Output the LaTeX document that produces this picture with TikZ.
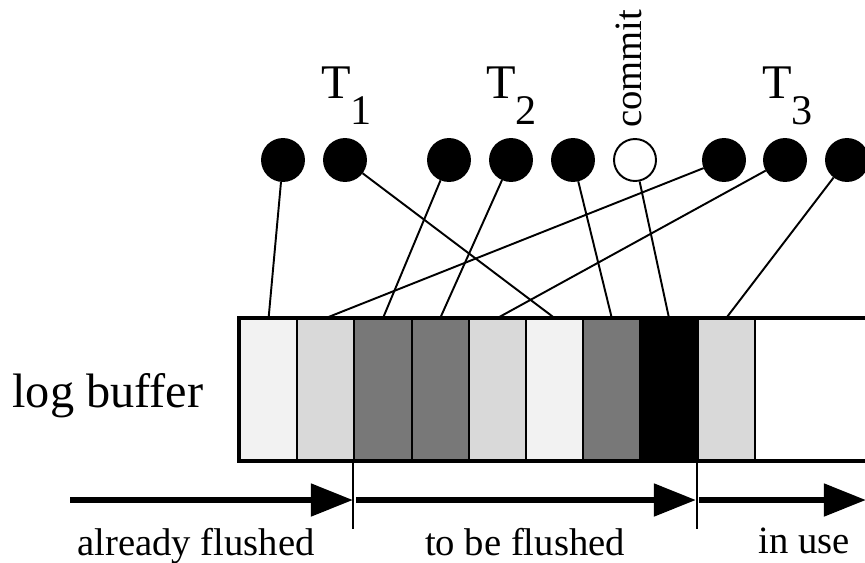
\documentclass[tikz,border=0pt]{standalone}
\usepackage{fontspec}
\setmainfont{Liberation Serif}
\usetikzlibrary{arrows.meta, positioning}

% transaction label with a lowered index
\newcommand{\tname}[1]{T\raisebox{-15pt}{\fontsize{24}{24}\selectfont #1}}

\begin{document}
\begin{tikzpicture}[x=0.02cm, y=-0.02cm,
    entry/.style={circle, draw, line width=1.1pt, fill=black, minimum size=0.84cm, inner sep=0pt},
    cell/.style={rectangle, draw, line width=1.1pt, minimum width=1.144cm, minimum height=2.84cm, inner sep=0pt},
    link/.style={line width=1.1pt},
    flow/.style={line width=3.6pt, -{Triangle[length=24pt, width=18pt]}},
    tick/.style={line width=1.1pt},
    big/.style={font=\fontsize{27.5}{30}\selectfont, inner sep=0pt},
    small/.style={font=\fontsize{22}{24}\selectfont, inner sep=0pt}]
    \useasboundingbox (0,0) rectangle (865,562);

    % Log records of the transactions
    \node[entry] (e1) at (283,160) {};
    \node[entry] (e2) at (345,160) {};
    \node[entry] (e3) at (449,160) {};
    \node[entry] (e4) at (511,160) {};
    \node[entry] (e5) at (573,160) {};
    \node[entry, fill=white] (commit) at (635,160) {};
    \node[entry] (e7) at (724,160) {};
    \node[entry] (e8) at (785,160) {};
    \node[entry] (e9) at (847,160) {};

    % Labels
    \node[big, anchor=base west] (t1) at (321,98) {\tname{1}};
    \node[big, anchor=base west] (t2) at (486,98) {\tname{2}};
    \node[big, anchor=base west] (t3) at (762,98) {\tname{3}};
    \node[small, rotate=90, anchor=base west] (clab) at (641,128) {commit};

    % The buffer slots
    \node[cell, fill=gray!10] (c1) at (268.6,390) {};
    \node[cell, fill=gray!30] (c2) at (325.8,390) {};
    \node[cell, fill=black!53] (c3) at (383.0,390) {};
    \node[cell, fill=black!53] (c4) at (440.2,390) {};
    \node[cell, fill=gray!30] (c5) at (497.4,390) {};
    \node[cell, fill=gray!10] (c6) at (554.6,390) {};
    \node[cell, fill=black!53] (c7) at (611.8,390) {};
    \node[cell, fill=black] (c8) at (669.0,390) {};
    \node[cell, fill=gray!30] (c9) at (726.2,390) {};
    \draw[line width=2pt] (c1.north west) rectangle (900,461);
    \node[big, anchor=base] (buf) at (108,407) {log buffer};

    % Records to slots
    \draw[link] (e1) -- (c1.north);
    \draw[link] (e2) -- (c6.north);
    \draw[link] (e3) -- (c3.north);
    \draw[link] (e4) -- (c4.north);
    \draw[link] (e5) -- (c7.north);
    \draw[link] (commit) -- (c8.north);
    \draw[link] (e7) -- (c2.north);
    \draw[link] (e8) -- (c5.north);
    \draw[link] (e9) -- (c9.north);

    % Flush regions
    \coordinate (a1) at (70,500);
    \coordinate (b1) at (353,500);
    \coordinate (a2) at (356,500);
    \coordinate (b2) at (696,500);
    \coordinate (a3) at (699,500);
    \coordinate (b3) at (866,500);
    \draw[flow] (a1) -- (b1);
    \draw[flow] (a2) -- (b2);
    \draw[flow] (a3) -- (b3);
    \draw[tick] (c3.south west) -- ++(0,67);
    \draw[tick] (c9.south west) -- ++(0,67);

    \node[small, anchor=base] (l1) at (196,555) {already flushed};
    \node[small, anchor=base] (l2) at (525,555) {to be flushed};
    \node[small, anchor=base] (l3) at (804,553) {in use};
\end{tikzpicture}
\end{document}
